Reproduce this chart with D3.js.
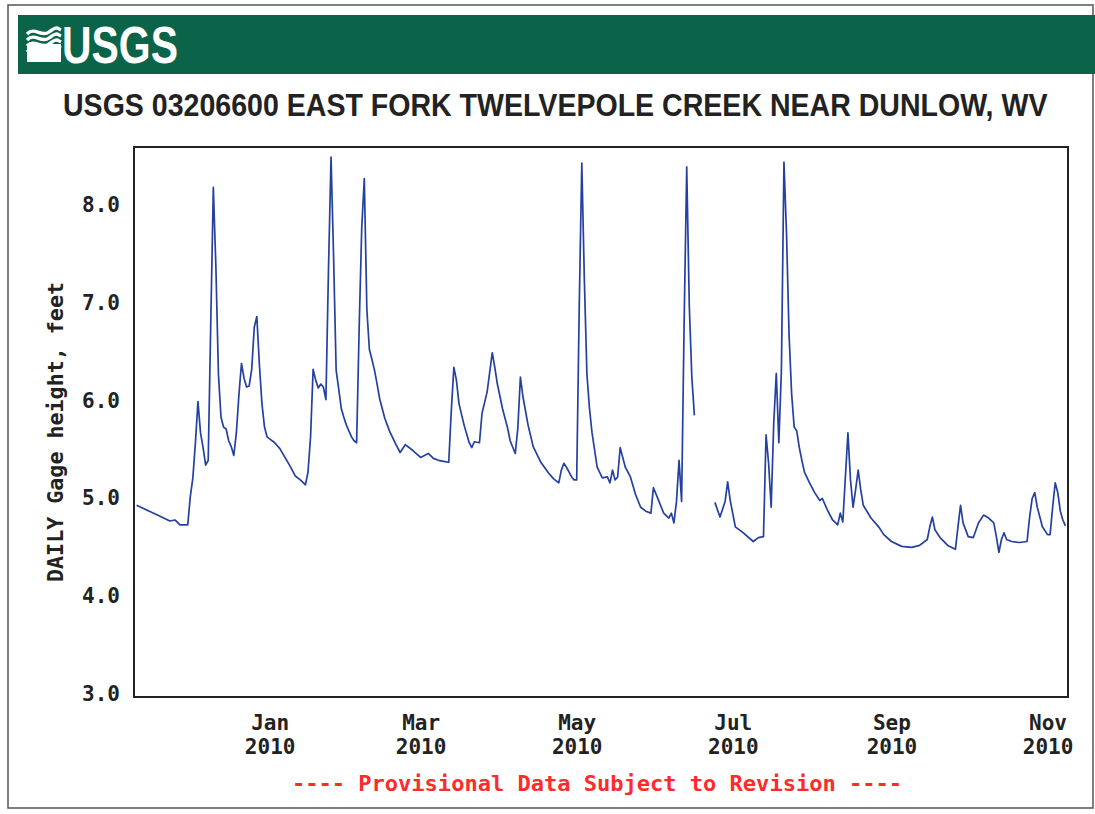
<!DOCTYPE html>
<html>
<head>
<meta charset="utf-8">
<script src="https://cdn.jsdelivr.net/npm/d3@7"></script>
<style>
  body { margin: 0; background: #fff; }
  svg { display: block; }
</style>
</head>
<body>
<div id="chart"></div>
<script>
/* DATA */
// daily gage height (feet), read off the hydrograph; null = missing record
const gageHeight = [
  ["2009-11-10",4.96],["2009-11-15",4.90],["2009-11-19",4.85],["2009-11-23",4.80],
  ["2009-11-25",4.81],["2009-11-27",4.76],["2009-11-29",4.76],["2009-11-30",4.76],
  ["2009-12-01",5.05],["2009-12-02",5.24],["2009-12-03",5.60],["2009-12-04",6.02],
  ["2009-12-05",5.70],["2009-12-06",5.55],["2009-12-07",5.37],["2009-12-08",5.42],
  ["2009-12-09",6.83],["2009-12-10",8.21],["2009-12-11",7.40],["2009-12-12",6.30],
  ["2009-12-13",5.86],["2009-12-14",5.76],["2009-12-15",5.74],["2009-12-16",5.62],
  ["2009-12-17",5.56],["2009-12-18",5.47],["2009-12-19",5.70],["2009-12-20",6.09],
  ["2009-12-21",6.41],["2009-12-22",6.26],["2009-12-23",6.17],["2009-12-24",6.18],
  ["2009-12-25",6.35],["2009-12-26",6.78],["2009-12-27",6.89],["2009-12-28",6.40],
  ["2009-12-29",6.00],["2009-12-30",5.76],["2009-12-31",5.66],["2010-01-01",5.64],
  ["2010-01-03",5.60],["2010-01-05",5.54],["2010-01-07",5.45],["2010-01-09",5.36],
  ["2010-01-11",5.26],["2010-01-13",5.22],["2010-01-15",5.17],["2010-01-16",5.30],
  ["2010-01-17",5.66],["2010-01-18",6.35],["2010-01-19",6.24],["2010-01-20",6.16],
  ["2010-01-21",6.20],["2010-01-22",6.17],["2010-01-23",6.04],["2010-01-24",7.37],
  ["2010-01-25",8.52],["2010-01-26",7.50],["2010-01-27",6.34],["2010-01-28",6.15],
  ["2010-01-29",5.95],["2010-01-30",5.86],["2010-01-31",5.78],["2010-02-01",5.72],
  ["2010-02-02",5.66],["2010-02-03",5.62],["2010-02-04",5.60],["2010-02-05",6.78],
  ["2010-02-06",7.80],["2010-02-07",8.30],["2010-02-08",6.96],["2010-02-09",6.55],
  ["2010-02-10",6.45],["2010-02-11",6.34],["2010-02-12",6.20],["2010-02-13",6.05],
  ["2010-02-14",5.95],["2010-02-15",5.85],["2010-02-16",5.78],["2010-02-17",5.71],
  ["2010-02-19",5.60],["2010-02-21",5.50],["2010-02-23",5.58],["2010-02-26",5.52],
  ["2010-03-01",5.45],["2010-03-04",5.49],["2010-03-06",5.44],["2010-03-08",5.42],
  ["2010-03-10",5.41],["2010-03-12",5.40],["2010-03-13",5.93],["2010-03-14",6.37],
  ["2010-03-15",6.24],["2010-03-16",6.00],["2010-03-18",5.78],["2010-03-20",5.60],
  ["2010-03-21",5.55],["2010-03-22",5.61],["2010-03-24",5.60],["2010-03-25",5.90],
  ["2010-03-27",6.12],["2010-03-29",6.52],["2010-03-30",6.37],["2010-03-31",6.20],
  ["2010-04-02",5.95],["2010-04-04",5.75],["2010-04-05",5.62],["2010-04-07",5.49],
  ["2010-04-08",5.75],["2010-04-09",6.27],["2010-04-10",6.07],["2010-04-12",5.78],
  ["2010-04-14",5.56],["2010-04-17",5.40],["2010-04-20",5.29],["2010-04-22",5.23],
  ["2010-04-24",5.19],["2010-04-25",5.32],["2010-04-26",5.39],["2010-04-27",5.35],
  ["2010-04-29",5.25],["2010-04-30",5.22],["2010-05-01",5.22],["2010-05-02",7.00],
  ["2010-05-03",8.46],["2010-05-04",7.26],["2010-05-05",6.30],["2010-05-06",5.95],
  ["2010-05-07",5.70],["2010-05-09",5.35],["2010-05-11",5.24],["2010-05-13",5.25],
  ["2010-05-14",5.19],["2010-05-15",5.32],["2010-05-16",5.22],["2010-05-17",5.25],
  ["2010-05-18",5.55],["2010-05-20",5.35],["2010-05-22",5.25],["2010-05-24",5.07],
  ["2010-05-26",4.94],["2010-05-28",4.90],["2010-05-30",4.88],["2010-05-31",5.14],
  ["2010-06-02",5.01],["2010-06-04",4.88],["2010-06-06",4.83],["2010-06-07",4.88],
  ["2010-06-08",4.78],["2010-06-09",5.00],["2010-06-10",5.42],["2010-06-11",5.00],
  ["2010-06-12",6.85],["2010-06-13",8.42],["2010-06-14",7.00],["2010-06-15",6.27],
  ["2010-06-16",5.88],["2010-06-20",null],
  ["2010-06-24",4.99],["2010-06-26",4.84],["2010-06-28",5.00],["2010-06-29",5.20],
  ["2010-06-30",5.01],["2010-07-02",4.74],["2010-07-05",4.68],["2010-07-09",4.59],
  ["2010-07-11",4.63],["2010-07-13",4.64],["2010-07-14",5.68],["2010-07-15",5.39],
  ["2010-07-16",4.94],["2010-07-17",5.80],["2010-07-18",6.31],["2010-07-19",5.60],
  ["2010-07-20",6.34],["2010-07-21",8.47],["2010-07-22",7.74],["2010-07-23",6.70],
  ["2010-07-24",6.10],["2010-07-25",5.76],["2010-07-26",5.72],["2010-07-27",5.55],
  ["2010-07-28",5.42],["2010-07-29",5.30],["2010-07-31",5.19],["2010-08-02",5.09],
  ["2010-08-04",5.01],["2010-08-05",5.03],["2010-08-07",4.91],["2010-08-09",4.81],
  ["2010-08-11",4.76],["2010-08-12",4.88],["2010-08-13",4.79],["2010-08-14",5.25],
  ["2010-08-15",5.70],["2010-08-16",5.22],["2010-08-17",4.94],["2010-08-18",5.12],
  ["2010-08-19",5.32],["2010-08-20",5.12],["2010-08-21",4.96],["2010-08-24",4.83],
  ["2010-08-27",4.74],["2010-08-29",4.66],["2010-09-01",4.59],["2010-09-05",4.54],
  ["2010-09-09",4.53],["2010-09-12",4.55],["2010-09-15",4.61],["2010-09-16",4.74],
  ["2010-09-17",4.84],["2010-09-18",4.71],["2010-09-20",4.63],["2010-09-23",4.55],
  ["2010-09-26",4.51],["2010-09-27",4.74],["2010-09-28",4.96],["2010-09-29",4.78],
  ["2010-10-01",4.64],["2010-10-03",4.63],["2010-10-05",4.78],["2010-10-07",4.86],
  ["2010-10-09",4.83],["2010-10-11",4.78],["2010-10-12",4.64],["2010-10-13",4.48],
  ["2010-10-14",4.61],["2010-10-15",4.68],["2010-10-16",4.61],["2010-10-18",4.59],
  ["2010-10-21",4.58],["2010-10-24",4.59],["2010-10-25",4.84],["2010-10-26",5.03],
  ["2010-10-27",5.09],["2010-10-28",4.94],["2010-10-30",4.74],["2010-11-01",4.66],
  ["2010-11-02",4.66],["2010-11-03",4.94],["2010-11-04",5.19],["2010-11-05",5.09],
  ["2010-11-06",4.90],["2010-11-07",4.81],["2010-11-08",4.75]
];

const yTicks = [3, 4, 5, 6, 7, 8];
const monthTicks = ["2010-01-01", "2010-03-01", "2010-05-01", "2010-07-01", "2010-09-01", "2010-11-01"];
const period = ["2009-11-09", "2010-11-09"];

const titleText = "USGS 03206600 EAST FORK TWELVEPOLE CREEK NEAR DUNLOW, WV";
const yLabel = "DAILY Gage height, feet";
const footText = "---- Provisional Data Subject to Revision ----";

/* CONSTANTS */
const width = 1095, height = 814;
const plot = {left: 134, right: 1068, top: 147, bottom: 697};
const mono = "'DejaVu Sans Mono', 'Liberation Mono', monospace";
const narrow = "'Liberation Sans Narrow', 'Arial Narrow', 'Liberation Sans', Arial, sans-serif";

const parse = d3.timeParse("%Y-%m-%d");
const data = gageHeight.map(([d, v]) => ({date: parse(d), value: v}));

const svg = d3.select("#chart")
  .append("svg")
  .attr("width", width)
  .attr("height", height);

// squeeze a text horizontally so it spans `w` pixels from x0
function fitText(sel, x0, y0, w) {
  const natural = sel.node().getComputedTextLength();
  sel.attr("transform", `translate(${x0},${y0}) scale(${w / natural},1)`);
}

// page border
svg.append("rect")
  .attr("x", 8).attr("y", 5)
  .attr("width", 1085).attr("height", 803)
  .attr("fill", "none")
  .attr("stroke", "#555")
  .attr("stroke-width", 1.5);

// green banner
svg.append("rect")
  .attr("x", 18).attr("y", 15)
  .attr("width", width - 18).attr("height", 59)
  .attr("fill", "#0b6449");

// logo waves
const logo = svg.append("g").attr("transform", "translate(27,28)");
logo.append("rect").attr("x", 0).attr("y", 16).attr("width", 34).attr("height", 18).attr("fill", "#fff");
[2, 8, 14, 20].forEach(off => {
  logo.append("path")
    .attr("d", `M0,${off + 4} C8,${off - 4} 14,${off + 8} 22,${off + 2} S30,${off - 2} 34,${off}`)
    .attr("fill", "none")
    .attr("stroke", "#fff")
    .attr("stroke-width", 3.4);
});

const logoText = svg.append("text")
  .style("font-family", narrow)
  .style("font-weight", "bold")
  .style("font-size", "52px")
  .attr("fill", "#fff")
  .text("USGS");
fitText(logoText, 62, 63, 116);

// title
const title = svg.append("text")
  .style("font-family", narrow)
  .style("font-weight", "bold")
  .style("font-size", "32px")
  .attr("fill", "#222")
  .text(titleText);
fitText(title, 63, 116, 985);

/* SCALES */
const x = d3.scaleTime()
  .domain(period.map(parse))
  .range([plot.left, plot.right]);

const y = d3.scaleLinear()
  .domain([3, 3 + (plot.bottom - plot.top) / 97.8])
  .range([plot.bottom, plot.top]);

/* AXES */
const yAxis = d3.axisLeft(y)
  .tickValues(yTicks)
  .tickSize(0)
  .tickPadding(0)
  .tickFormat(d3.format(".1f"));

svg.append("g")
  .attr("transform", `translate(${plot.left - 14},0)`)
  .call(yAxis)
  .call(g => g.select(".domain").remove())
  .selectAll("text")
  .attr("dy", "3.5")
  .style("font-family", mono)
  .style("font-weight", "bold")
  .style("font-size", "21px")
  .attr("fill", "#222");

const xAxis = d3.axisBottom(x)
  .tickValues(monthTicks.map(parse))
  .tickSize(0)
  .tickFormat("");

const xg = svg.append("g")
  .attr("transform", `translate(0,${plot.bottom})`)
  .call(xAxis)
  .call(g => g.select(".domain").remove());

xg.selectAll(".tick").each(function(d) {
  const t = d3.select(this).append("text")
    .attr("text-anchor", "middle")
    .style("font-family", mono)
    .style("font-weight", "bold")
    .style("font-size", "21px")
    .attr("fill", "#222");
  t.append("tspan").attr("x", 0).attr("y", 33).text(d3.timeFormat("%b")(d));
  t.append("tspan").attr("x", 0).attr("y", 57).text(d3.timeFormat("%Y")(d));
});

// y axis title
svg.append("text")
  .attr("transform", `translate(63,${(plot.top + plot.bottom) / 2 + 10}) rotate(-90)`)
  .attr("text-anchor", "middle")
  .attr("textLength", 300)
  .attr("lengthAdjust", "spacingAndGlyphs")
  .style("font-family", mono)
  .style("font-weight", "bold")
  .style("font-size", "21px")
  .attr("fill", "#222")
  .text(yLabel);

/* LINE */
const line = d3.line()
  .defined(d => d.value != null)
  .x(d => x(d.date))
  .y(d => y(d.value));

svg.append("path")
  .datum(data)
  .attr("d", line)
  .attr("fill", "none")
  .attr("stroke", "#2440a0")
  .attr("stroke-width", 1.7)
  .attr("stroke-linejoin", "round");

// plot frame
svg.append("rect")
  .attr("x", plot.left).attr("y", plot.top)
  .attr("width", plot.right - plot.left)
  .attr("height", plot.bottom - plot.top)
  .attr("fill", "none")
  .attr("stroke", "#222")
  .attr("stroke-width", 2);

// provisional note
svg.append("text")
  .attr("x", 597).attr("y", 791)
  .attr("text-anchor", "middle")
  .attr("textLength", 610)
  .attr("lengthAdjust", "spacingAndGlyphs")
  .style("font-family", mono)
  .style("font-weight", "bold")
  .style("font-size", "21px")
  .attr("fill", "#ff2a2a")
  .text(footText);
</script>
</body>
</html>
